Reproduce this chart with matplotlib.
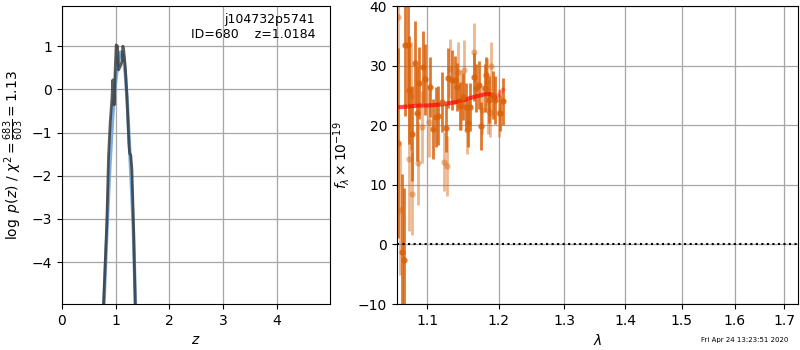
import numpy as np
import matplotlib
matplotlib.use("Agg")
import matplotlib.pyplot as plt
from matplotlib.ticker import FixedLocator, NullLocator, FuncFormatter

# ---- data: p(z) panel ----
pz_z = [0.772, 0.835, 0.866, 0.897, 0.928, 0.947, 0.972, 0.99, 1.009, 1.034, 1.053,
        1.084, 1.115, 1.134, 1.15, 1.178, 1.209, 1.246, 1.259, 1.28, 1.302, 1.333, 1.364]
pz_logp = [-5.03, -3.10, -1.56, -0.78, -0.24, 0.22, -0.36, 0.45, 1.03, 1.0, 0.45,
           0.53, 0.64, 1.0, 0.9, 0.53, -0.17, -1.25, -1.48, -1.52, -1.86, -3.25, -5.03]
pzs_z = [0.78, 0.845, 0.89, 0.94, 0.99, 1.04, 1.08, 1.11, 1.14, 1.18, 1.22, 1.26, 1.30, 1.33, 1.368]
pzs_logp = [-5.0, -3.0, -1.8, -0.7, 0.1, 0.6, 0.85, 0.87, 0.75, 0.35, -0.4, -1.4, -2.4, -3.3, -5.0]

# ---- data: spectrum panel ----
lam_a = [1.0617, 1.0661, 1.0691, 1.0704, 1.0747, 1.0760, 1.0791, 1.0835, 1.0866, 1.0893,
         1.0937, 1.0968, 1.1035, 1.1080, 1.1116, 1.1148, 1.1194, 1.1252, 1.1284, 1.1330,
         1.1375, 1.1408, 1.1445, 1.1482, 1.1528, 1.1560, 1.1594, 1.1640, 1.1668, 1.1715,
         1.1739, 1.1796, 1.1820, 1.1857, 1.1915, 1.1939, 1.2026, 1.2060]
flux_a = [17.0, -1.2, -2.6, 33.5, 33.5, 25.9, 18.6, 30.5, 22.0, 27.1,
          29.8, 27.7, 26.4, 19.4, 21.4, 21.6, 23.9, 19.5, 27.9, 27.6,
          27.6, 26.4, 23.2, 24.8, 23.0, 20.3, 23.1, 28.1, 26.2, 26.7,
          19.9, 26.2, 28.4, 24.3, 25.1, 24.2, 22.0, 24.0]
err_a = [16, 13, 12, 12, 10, 9, 8, 7, 8, 6,
         6, 6, 5, 5, 5, 5, 5, 4, 5, 5,
         4, 4, 4, 4, 4, 4, 4, 4, 4, 4,
         4, 4, 3, 4, 4, 4, 3, 4]

lam_b = [1.0617, 1.0639, 1.0760, 1.0778, 1.0800, 1.0880, 1.0924, 1.1026, 1.1225, 1.1270,
         1.1307, 1.1421, 1.1454, 1.1500, 1.1546, 1.1644, 1.1763, 1.1829, 1.1849, 1.1867,
         1.1892, 1.2002]
flux_b = [38.2, 5.8, 14.3, 24.9, 8.5, 13.6, 19.7, 20.6, 13.9, 13.2,
          29.5, 29.0, 24.2, 29.3, 19.2, 32.2, 22.5, 27.3, 22.5, 22.0,
          29.9, 22.0]
err_b = [8, 11, 12, 9, 7, 7, 6, 6, 5, 5,
         5, 5, 5, 5, 4, 5, 4, 4, 4, 4,
         4, 4]

lam_m = [1.060, 1.070, 1.080, 1.090, 1.100, 1.110, 1.120, 1.130, 1.140, 1.150,
         1.160, 1.170, 1.180, 1.188, 1.194]
flux_m = [23.0, 23.1, 23.2, 23.3, 23.3, 23.4, 23.5, 23.7, 23.9, 24.2,
          24.6, 24.9, 25.2, 25.2, 24.6]
lam_m2 = [1.194, 1.200, 1.206]
flux_m2 = [24.6, 25.0, 25.9]

z_ticks = [0, 1, 2, 3, 4]
logp_ticks = [-4, -3, -2, -1, 0, 1]
lam_ticks = [1.1, 1.2, 1.3, 1.4, 1.5, 1.6, 1.7]
flux_ticks = [-10, 0, 10, 20, 30, 40]

fig = plt.figure(figsize=(8, 3.5), dpi=100)
ax1 = fig.add_axes([62/800, 46/350, 268/800, 298/350])
ax2 = fig.add_axes([397/800, 46/350, 401/800, 298/350])

# left panel
ax1.plot(pzs_z, pzs_logp, color='#6fa8dc', lw=2.5, alpha=0.9)
ax1.plot(pz_z, pz_logp, color='0.2', lw=2.0, alpha=0.8)
ax1.set_xlim(0, 4.99)
ax1.set_ylim(-4.97, 1.93)
ax1.set_xticks(z_ticks)
ax1.set_yticks(logp_ticks)
ax1.grid(True, color='0.65', lw=0.9)
ax1.set_axisbelow(True)
ax1.set_xlabel('$z$')
ax1.set_ylabel(r'$\log\ p(z)$ / $\chi^2=\frac{683}{603}=1.13$')
ax1.text(0.945, 0.975, 'j104732p5741\nID=680    z=1.0184', transform=ax1.transAxes,
         ha='right', va='top', fontsize=9, linespacing=1.15)

# right panel
col = '#d9620a'
ax2.errorbar(lam_b, flux_b, yerr=err_b, fmt='o', color=col, ms=4.5, elinewidth=2,
             alpha=0.45, mew=0, capsize=0)
ax2.errorbar(lam_a, flux_a, yerr=err_a, fmt='o', color=col, ms=4.5, elinewidth=2,
             alpha=0.85, mew=0, capsize=0)
ax2.plot(lam_m, flux_m, color='red', lw=3, alpha=0.7)
ax2.plot(lam_m2, flux_m2, color='red', lw=3, alpha=0.35)
ax2.axhline(0, color='black', ls=':', lw=1.5)
ax2.set_xscale('log')
ax2.set_xlim(1.060, 1.7286)
ax2.set_ylim(-10, 40)
ax2.xaxis.set_major_locator(FixedLocator(lam_ticks))
ax2.xaxis.set_minor_locator(NullLocator())
ax2.xaxis.set_major_formatter(FuncFormatter(lambda v, p: f'{v:.1f}'))
ax2.set_yticks(flux_ticks)
ax2.grid(True, color='0.65', lw=0.9)
ax2.set_axisbelow(True)
ax2.set_xlabel(r'$\lambda$')
ax2.set_ylabel(r'$f_\lambda\times10^{-19}$')

fig.text(788/800, 1 - 340/350, 'Fri Apr 24 13:23:51 2020', ha='right', va='center', fontsize=5)

fig.savefig('out.png', dpi=100)
